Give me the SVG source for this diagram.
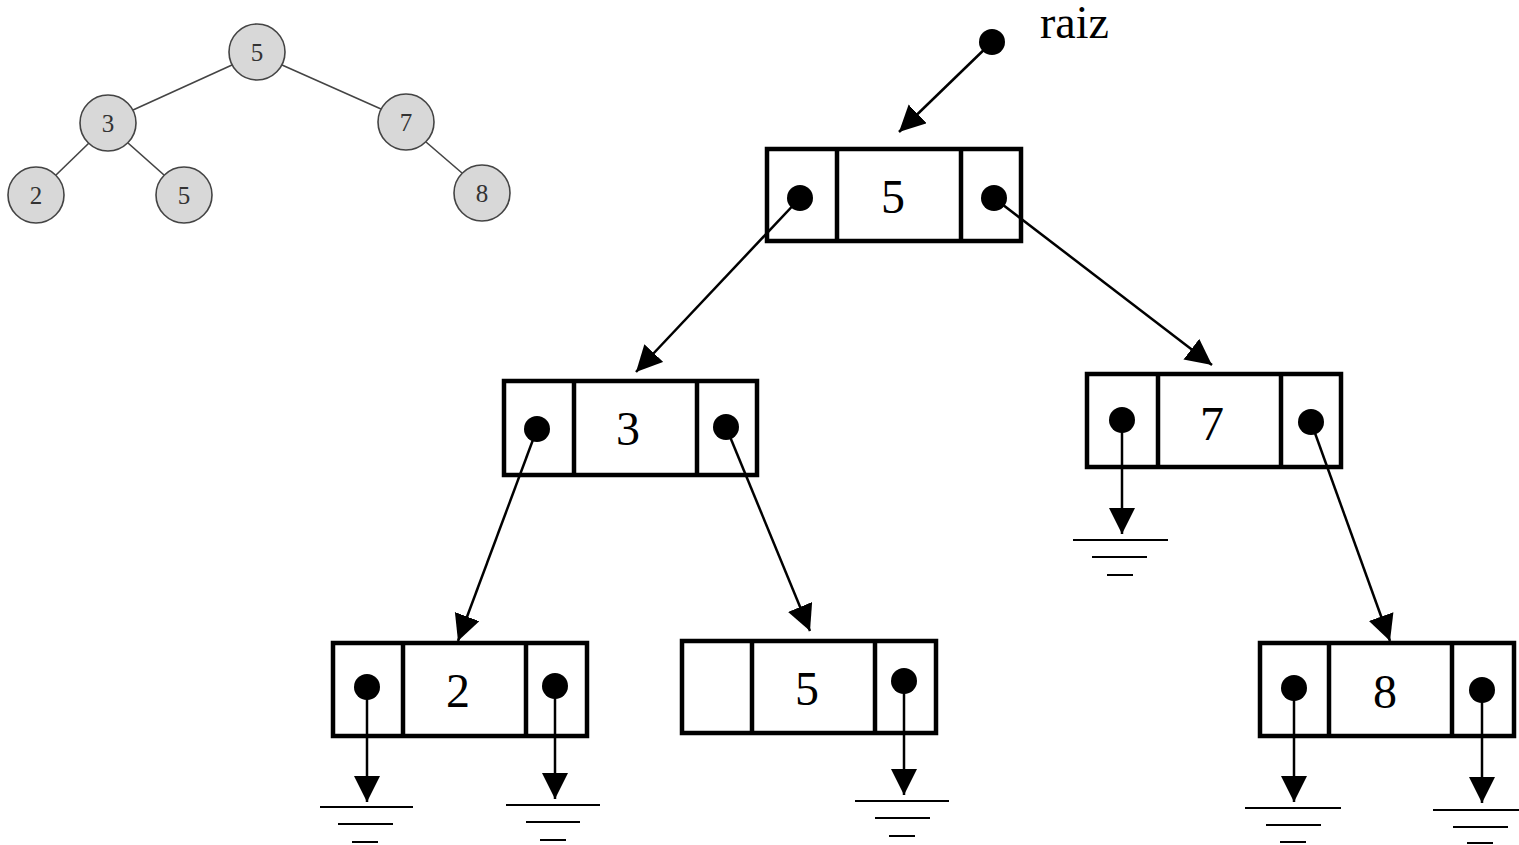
<svg xmlns="http://www.w3.org/2000/svg" width="1519" height="845" viewBox="0 0 1519 845">
  <defs>
    <marker id="arrow" markerUnits="userSpaceOnUse" markerWidth="27" markerHeight="27" refX="26" refY="13" orient="auto">
      <path d="M0,0 L26,13 L0,26 z" fill="#000"/>
    </marker>
    <style>
      .cell { fill: #fff; stroke: #000; stroke-width: 4.5; }
      .div { stroke: #000; stroke-width: 4.5; }
      .dot { fill: #000; }
      .val { font-family: "Liberation Serif", "Times New Roman", serif; font-size: 48px; text-anchor: middle; fill: #000; }
      .ptr { stroke: #000; stroke-width: 2.5; fill: none; marker-end: url(#arrow); }
      .gnd { stroke: #000; stroke-width: 2; }
      .sedge { stroke: #444; stroke-width: 1.6; }
      .snode { fill: #d8d8d8; stroke: #444; stroke-width: 1.6; }
      .slabel { font-family: "Liberation Serif", "Times New Roman", serif; font-size: 25px; text-anchor: middle; fill: #333; }
    </style>
  </defs>

  <rect width="1519" height="845" fill="#fff"/>

  <!-- small abstract tree -->
  <g id="small-tree">
    <g id="small-edges">
      <line class="sedge" x1="232" y1="65" x2="133" y2="110"/>
      <line class="sedge" x1="282" y1="65" x2="381" y2="109"/>
      <line class="sedge" x1="89" y1="143" x2="56" y2="175"/>
      <line class="sedge" x1="128" y1="143" x2="164" y2="175"/>
      <line class="sedge" x1="426" y1="142" x2="462" y2="173"/>
    </g>
    <g id="s5"><circle class="snode" cx="257" cy="52" r="28"/><text class="slabel" x="257" y="61">5</text></g>
    <g id="s3"><circle class="snode" cx="108" cy="123" r="28"/><text class="slabel" x="108" y="132">3</text></g>
    <g id="s7"><circle class="snode" cx="406" cy="122" r="28"/><text class="slabel" x="406" y="131">7</text></g>
    <g id="s2"><circle class="snode" cx="36" cy="195" r="28"/><text class="slabel" x="36" y="204">2</text></g>
    <g id="s5b"><circle class="snode" cx="184" cy="195" r="28"/><text class="slabel" x="184" y="204">5</text></g>
    <g id="s8"><circle class="snode" cx="482" cy="193" r="28"/><text class="slabel" x="482" y="202">8</text></g>
  </g>

  <!-- root pointer -->
  <g id="raiz">
    <circle class="dot" cx="992" cy="42" r="13"/>
    <text x="1040" y="38" font-family="Liberation Serif, Times New Roman, serif" font-size="46">raiz</text>
  </g>

  <!-- linked nodes: [left | value | right] -->
  <g id="node-5">
    <rect class="cell" x="767" y="149" width="254" height="92"/>
    <line class="div" x1="837" y1="149" x2="837" y2="241"/>
    <line class="div" x1="961" y1="149" x2="961" y2="241"/>
    <text class="val" x="893" y="213">5</text>
  </g>
  <g id="node-3">
    <rect class="cell" x="504" y="381" width="253" height="94"/>
    <line class="div" x1="574" y1="381" x2="574" y2="475"/>
    <line class="div" x1="697" y1="381" x2="697" y2="475"/>
    <text class="val" x="628" y="445">3</text>
  </g>
  <g id="node-7">
    <rect class="cell" x="1087" y="374" width="254" height="93"/>
    <line class="div" x1="1158" y1="374" x2="1158" y2="467"/>
    <line class="div" x1="1281" y1="374" x2="1281" y2="467"/>
    <text class="val" x="1212" y="440">7</text>
  </g>
  <g id="node-2">
    <rect class="cell" x="333" y="643" width="254" height="93"/>
    <line class="div" x1="403" y1="643" x2="403" y2="736"/>
    <line class="div" x1="526" y1="643" x2="526" y2="736"/>
    <text class="val" x="458" y="707">2</text>
  </g>
  <g id="node-5b">
    <rect class="cell" x="682" y="641" width="254" height="92"/>
    <line class="div" x1="752" y1="641" x2="752" y2="733"/>
    <line class="div" x1="875" y1="641" x2="875" y2="733"/>
    <text class="val" x="807" y="705">5</text>
  </g>
  <g id="node-8">
    <rect class="cell" x="1260" y="643" width="254" height="93"/>
    <line class="div" x1="1329" y1="643" x2="1329" y2="736"/>
    <line class="div" x1="1452" y1="643" x2="1452" y2="736"/>
    <text class="val" x="1385" y="708">8</text>
  </g>

  <!-- pointers and null grounds -->
  <g id="connectors">
    <line class="ptr" x1="992" y1="42" x2="899" y2="132"/>
    <line class="ptr" x1="800" y1="198" x2="636" y2="372"/>
    <line class="ptr" x1="994" y1="198" x2="1212" y2="365"/>
    <line class="ptr" x1="537" y1="429" x2="458" y2="641"/>
    <line class="ptr" x1="726" y1="427" x2="810" y2="631"/>
    <line class="ptr" x1="1311" y1="422" x2="1390" y2="641"/>

    <!-- null links -->
    <line class="ptr" x1="1122" y1="420" x2="1122" y2="534"/>
    <line class="ptr" x1="367" y1="687" x2="367" y2="802"/>
    <line class="ptr" x1="555" y1="686" x2="555" y2="799"/>
    <line class="ptr" x1="904" y1="681" x2="904" y2="795"/>
    <line class="ptr" x1="1294" y1="688" x2="1294" y2="802"/>
    <line class="ptr" x1="1482" y1="690" x2="1482" y2="803"/>
  </g>

  <g id="pointer-dots">
    <circle class="dot" cx="800" cy="198" r="13"/>
    <circle class="dot" cx="994" cy="198" r="13"/>
    <circle class="dot" cx="537" cy="429" r="13"/>
    <circle class="dot" cx="726" cy="427" r="13"/>
    <circle class="dot" cx="1122" cy="420" r="13"/>
    <circle class="dot" cx="1311" cy="422" r="13"/>
    <circle class="dot" cx="367" cy="687" r="13"/>
    <circle class="dot" cx="555" cy="686" r="13"/>
    <circle class="dot" cx="904" cy="681" r="13"/>
    <circle class="dot" cx="1294" cy="688" r="13"/>
    <circle class="dot" cx="1482" cy="690" r="13"/>
  </g>

  <g id="grounds">
    <g id="gnd-7">
      <line class="gnd" x1="1073" y1="540" x2="1168" y2="540"/>
      <line class="gnd" x1="1092" y1="557" x2="1147" y2="557"/>
      <line class="gnd" x1="1107" y1="575" x2="1133" y2="575"/>
    </g>
    <g id="gnd-2l">
      <line class="gnd" x1="320" y1="807" x2="413" y2="807"/>
      <line class="gnd" x1="338" y1="824" x2="393" y2="824"/>
      <line class="gnd" x1="352" y1="842" x2="378" y2="842"/>
    </g>
    <g id="gnd-2r">
      <line class="gnd" x1="506" y1="805" x2="600" y2="805"/>
      <line class="gnd" x1="526" y1="822" x2="580" y2="822"/>
      <line class="gnd" x1="540" y1="840" x2="566" y2="840"/>
    </g>
    <g id="gnd-5b">
      <line class="gnd" x1="855" y1="801" x2="949" y2="801"/>
      <line class="gnd" x1="875" y1="818" x2="930" y2="818"/>
      <line class="gnd" x1="889" y1="836" x2="915" y2="836"/>
    </g>
    <g id="gnd-8l">
      <line class="gnd" x1="1245" y1="808" x2="1341" y2="808"/>
      <line class="gnd" x1="1266" y1="825" x2="1321" y2="825"/>
      <line class="gnd" x1="1280" y1="842" x2="1306" y2="842"/>
    </g>
    <g id="gnd-8r">
      <line class="gnd" x1="1433" y1="810" x2="1519" y2="810"/>
      <line class="gnd" x1="1453" y1="827" x2="1508" y2="827"/>
      <line class="gnd" x1="1467" y1="843" x2="1493" y2="843"/>
    </g>
  </g>
</svg>
